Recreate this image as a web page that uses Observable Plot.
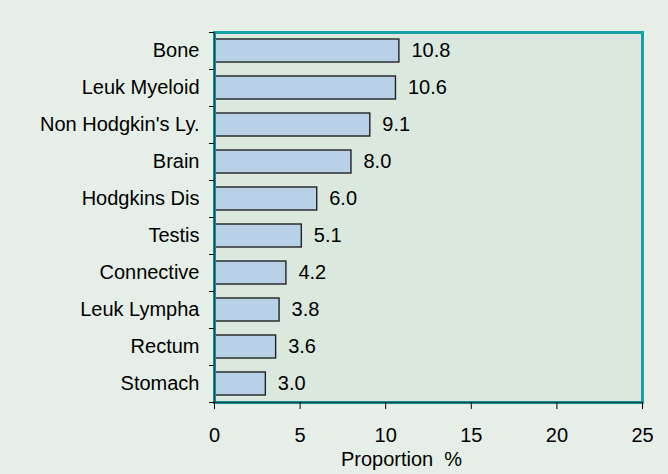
<!DOCTYPE html>
<html><head><meta charset="utf-8">
<script src="https://cdn.jsdelivr.net/npm/d3@7"></script>
<script src="https://cdn.jsdelivr.net/npm/@observablehq/plot@0.6"></script>
<style>body{margin:0;background:#e5efe7;} svg{display:block;}</style>
</head><body><div id="chart"></div>
<script>
const categories = ["Bone","Leuk Myeloid","Non Hodgkin's Ly.","Brain","Hodgkins Dis","Testis","Connective","Leuk Lympha","Rectum","Stomach"];
const values = [10.8,10.6,9.1,8.0,6.0,5.1,4.2,3.8,3.6,3.0];
const xTicks = [0,5,10,15,20,25];
const data = categories.map((c,i)=>({cat:c, v:values[i]}));
const chart = Plot.plot({
  width: 668, height: 474,
  marginLeft: 214, marginRight: 26, marginTop: 32, marginBottom: 72,
  style: {background: "#e5efe7", fontFamily: "'Liberation Sans', Arial, sans-serif", color: "#000"},
  x: {domain: [0,25], ticks: xTicks, label: null},
  y: {domain: categories, padding: 0, label: null},
  marks: [
    Plot.frame({fill: "#dae8dd", stroke: "none"}),
    Plot.barX(data, {x: "v", y: "cat", fill: "#b9d1e7", stroke: "#222", strokeWidth: 1.4, insetTop: 7, insetBottom: 7}),
    Plot.text(data, {x: "v", y: "cat", text: d=>d.v.toFixed(1), textAnchor: "start", dx: 12, fontSize: 20, fill: "#000"}),
    Plot.frame({stroke: "#17a0a8", strokeWidth: 3}),
    Plot.ruleX([0], {stroke: "#1b4e52", strokeWidth: 1.5}),
    Plot.ruleY([categories[categories.length-1]], {dy: 18.5, stroke: "#1b4e52", strokeWidth: 1.5}),
    Plot.axisX({ticks: xTicks, tickSize: 7, tickPadding: 18, fontSize: 20, tickFormat: d=>String(d), label: null, stroke: "#000"}),
    Plot.axisY({tickSize: 0, tickPadding: 15, fontSize: 20, label: null}),
    Plot.axisY({tickSize: 5, text: null, dy: -18.5, label: null}),
    Plot.axisY({tickSize: 5, text: null, dy: 18.5, label: null}),
    Plot.text(["Proportion  %"], {frameAnchor: "bottom", dy: 63, dx: -27, fontSize: 20, fill: "#000"})
  ]
});
document.getElementById("chart").appendChild(chart);
</script></body></html>
